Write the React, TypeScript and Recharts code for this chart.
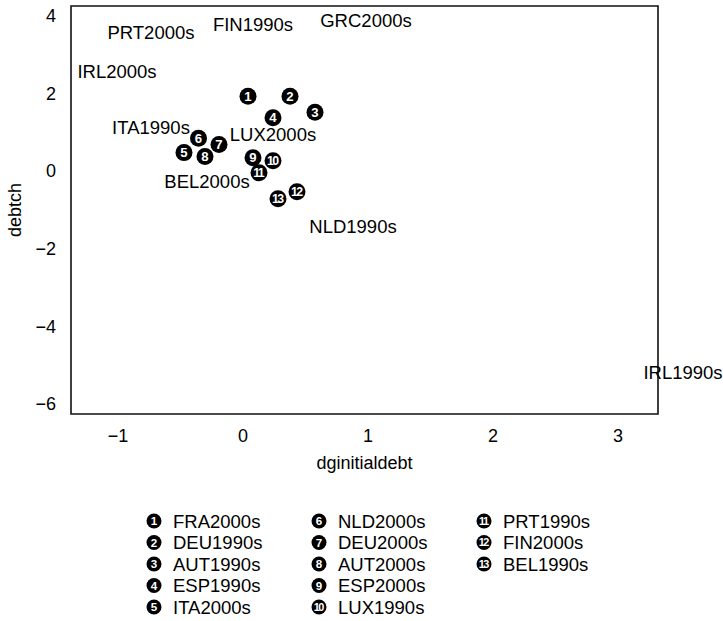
import React from 'react';
import {
  ScatterChart,
  Scatter,
  XAxis,
  YAxis,
  ReferenceDot,
  ReferenceArea,
  Legend
} from 'recharts';

const FONT = '"Liberation Sans", Arial, Helvetica, sans-serif';

// numbered markers (legend order)
const markerNames = [
  'FRA2000s', 'DEU1990s', 'AUT1990s', 'ESP1990s', 'ITA2000s',
  'NLD2000s', 'DEU2000s', 'AUT2000s', 'ESP2000s', 'LUX1990s',
  'PRT1990s', 'FIN2000s', 'BEL1990s'
];
const markerX = [0.04, 0.376, 0.576, 0.24, -0.472, -0.356, -0.192, -0.304, 0.08, 0.24, 0.128, 0.432, 0.28];
const markerY = [1.92, 1.92, 1.51, 1.37, 0.47, 0.84, 0.68, 0.37, 0.34, 0.26, -0.05, -0.54, -0.72];

// points shown by their text label only
const labelNames = ['PRT2000s', 'FIN1990s', 'GRC2000s', 'IRL2000s', 'ITA1990s', 'LUX2000s', 'BEL2000s', 'NLD1990s', 'IRL1990s'];
const labelX = [-0.736, 0.08, 0.984, -1.008, -0.736, 0.24, -0.288, 0.88, 3.52];
const labelY = [3.56, 3.77, 3.87, 2.55, 1.11, 0.93, -0.28, -1.44, -5.2];

const xTicks = [-1, 0, 1, 2, 3];
const yTicks = [-6, -4, -2, 0, 2, 4];
const xDomain = [-1.376, 3.32];
const yDomain = [-6.26, 4.245];

const markerData = markerNames.map((name, i) => ({ name, n: i + 1, x: markerX[i], y: markerY[i] }));

const minus = (v: number) => String(v).replace('-', '\u2212');

const badge = (cx: number, cy: number, n: number, r: number) => {
  const label = String(n);
  const two = label.length > 1;
  return (
    <g>
      <circle cx={cx} cy={cy} r={r} fill="#000" />
      <text
        x={two ? cx - 0.8 : cx}
        y={cy}
        dy="0.36em"
        textAnchor="middle"
        fill="#fff"
        fontSize={two ? r * 1.45 : r * 1.55}
        fontWeight="bold"
        letterSpacing={two ? -1.6 : 0}
        fontFamily={FONT}
      >
        {label}
      </text>
    </g>
  );
};

const NumberedDot = (props: any) => badge(props.cx, props.cy, props.payload.n, 8.5);

const TextDot = (name: string) => (props: any) => (
  <text
    x={props.cx}
    y={props.cy}
    dy="0.36em"
    textAnchor="middle"
    fill="#000"
    fontSize={18.5}
    fontFamily={FONT}
  >
    {name}
  </text>
);

const LegendGrid = () => (
  <svg width={723} height={116} style={{ display: 'block' }}>
    {markerNames.map((name, i) => {
      const col = Math.floor(i / 5);
      const row = i % 5;
      const cx = 154 + col * 165;
      const cy = 16 + row * 21.5;
      return (
        <g key={name}>
          {badge(cx, cy, i + 1, 7.5)}
          <text x={cx + 19} y={cy} dy="0.36em" fill="#000" fontSize={18.5} fontFamily={FONT}>
            {name}
          </text>
        </g>
      );
    })}
  </svg>
);

export default function App() {
  return (
    <div style={{ position: 'absolute', left: 0, top: 0, width: 723, height: 621, background: '#fff' }}>
      <ScatterChart
        width={723}
        height={621}
        margin={{ top: 6, right: 65, bottom: 152, left: 0 }}
        style={{ fontFamily: FONT }}
      >
        <XAxis
          type="number"
          dataKey="x"
          domain={xDomain}
          ticks={xTicks}
          allowDataOverflow
          axisLine={false}
          tickLine={false}
          tickSize={0}
          tickMargin={15}
          height={55}
          tickFormatter={minus}
          tick={{ fill: '#000', fontSize: 18, fontFamily: FONT }}
          label={{ value: 'dginitialdebt', position: 'insideBottom', offset: 0, fill: '#000', fontSize: 18, fontFamily: FONT }}
        />
        <YAxis
          type="number"
          dataKey="y"
          domain={yDomain}
          ticks={yTicks}
          allowDataOverflow
          axisLine={false}
          tickLine={false}
          tickSize={0}
          tickMargin={15}
          width={71}
          tickFormatter={minus}
          tick={{ fill: '#000', fontSize: 18, fontFamily: FONT }}
          label={{
            value: 'debtch',
            angle: -90,
            position: 'insideLeft',
            offset: 15,
            fill: '#000',
            fontSize: 18,
            fontFamily: FONT,
            style: { textAnchor: 'middle' }
          }}
        />
        <ReferenceArea
          x1={xDomain[0]}
          x2={xDomain[1]}
          y1={yDomain[0]}
          y2={yDomain[1]}
          fill="none"
          stroke="#111"
          strokeWidth={1.6}
          fillOpacity={0}
          ifOverflow="visible"
        />
        <Scatter data={markerData} shape={<NumberedDot />} isAnimationActive={false} />
        {labelNames.map((name, i) => (
          <ReferenceDot
            key={name}
            x={labelX[i]}
            y={labelY[i]}
            r={0}
            ifOverflow="visible"
            shape={TextDot(name)}
          />
        ))}
        <Legend
          layout="horizontal"
          verticalAlign="middle"
          align="center"
          content={<LegendGrid />}
          wrapperStyle={{ left: 0, top: 505, width: 723, height: 116 }}
        />
      </ScatterChart>
    </div>
  );
}
